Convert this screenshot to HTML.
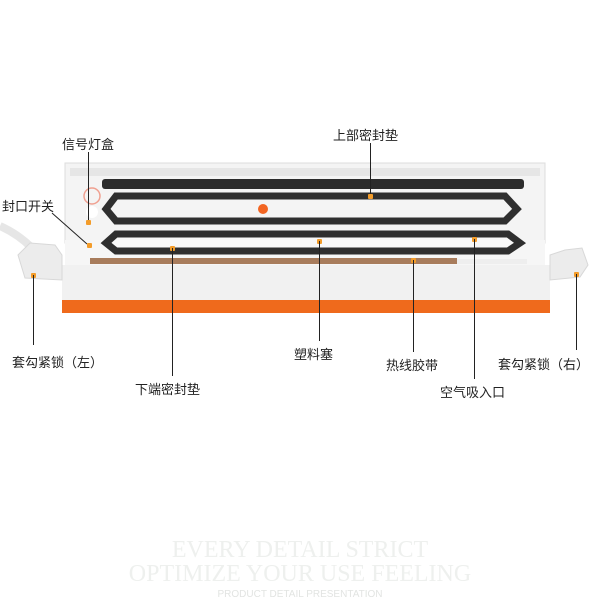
<!DOCTYPE html><html><head><meta charset="utf-8"><style>
body{margin:0;width:600px;height:600px;background:#fff;position:relative;overflow:hidden;font-family:"Liberation Sans","Noto Sans CJK SC",sans-serif}
.t{position:absolute;font-size:13px;color:#222;white-space:nowrap}
.ln{position:absolute;width:1px;background:#222}
.d{position:absolute;width:5px;height:5px;background:#f39c2a;border-radius:1px}
.g{position:absolute;font-family:"Liberation Serif",serif;color:#eef0ee;white-space:nowrap;text-align:center;width:600px;left:0}
</style></head><body>
<svg width="600" height="600" style="position:absolute;left:0;top:0">
<path d="M0 226 Q18 234 32 248" stroke="#e6e6e6" stroke-width="8" fill="none"/>
<rect x="65" y="163" width="480" height="80" fill="#f4f4f4" stroke="#ddd"/>
<rect x="70" y="168" width="470" height="8" fill="#e6e6e6"/>
<rect x="102" y="179" width="422" height="10" rx="3" fill="#2c2c2c"/>
<path d="M116 196 L505 196 L517 209 L505 221 L116 221 L106 209 Z" fill="none" stroke="#2f2f2f" stroke-width="7"/>
<circle cx="263" cy="209" r="5" fill="#f26522"/>
<circle cx="92" cy="196" r="8" fill="none" stroke="#f0a090" stroke-width="1.5"/>
<circle cx="92" cy="212" r="6" fill="#fff"/>
<rect x="65" y="240" width="480" height="25" fill="#f6f6f6"/>
<path d="M116 234 L508 234 L520 243 L508 251 L116 251 L106 243 Z" fill="#f8f8f8" stroke="#2f2f2f" stroke-width="7"/>
<rect x="90" y="258" width="367" height="6" fill="#a87c5c"/>
<rect x="457" y="259" width="70" height="5" fill="#eee"/>
<rect x="62" y="265" width="488" height="36" fill="#f1f1f1"/>
<rect x="62" y="300" width="488" height="13" fill="#ef6a1c"/>
<path d="M18 255 L30 243 L55 245 L62 255 L62 280 L25 278 Z" fill="#ececec" stroke="#d8d8d8"/>
<path d="M550 255 L565 250 L582 248 L588 265 L580 277 L550 280 Z" fill="#ececec" stroke="#d8d8d8"/>
<line x1="52" y1="213" x2="87" y2="244" stroke="#222" stroke-width="1"/>
</svg>
<div class="t" style="left:62px;top:134px">信号灯盒</div><div class="ln" style="left:88px;top:152px;height:70px"></div><div class="d" style="left:86px;top:220px"></div>
<div class="t" style="left:333px;top:125px">上部密封垫</div><div class="ln" style="left:370px;top:143px;height:53px"></div><div class="d" style="left:368px;top:194px"></div>
<div class="t" style="left:2px;top:196px">封口开关</div><div class="d" style="left:87px;top:243px"></div>
<div class="d" style="left:31px;top:273px"></div><div class="ln" style="left:33px;top:275px;height:70px"></div><div class="t" style="left:12px;top:352px">套勾紧锁（左）</div>
<div class="d" style="left:170px;top:246px"></div><div class="ln" style="left:172px;top:248px;height:128px"></div><div class="t" style="left:135px;top:379px">下端密封垫</div>
<div class="d" style="left:317px;top:239px"></div><div class="ln" style="left:319px;top:241px;height:100px"></div><div class="t" style="left:294px;top:344px">塑料塞</div>
<div class="d" style="left:411px;top:258px"></div><div class="ln" style="left:413px;top:260px;height:92px"></div><div class="t" style="left:386px;top:355px">热线胶带</div>
<div class="d" style="left:472px;top:237px"></div><div class="ln" style="left:474px;top:239px;height:140px"></div><div class="t" style="left:440px;top:382px">空气吸入口</div>
<div class="d" style="left:574px;top:272px"></div><div class="ln" style="left:576px;top:274px;height:76px"></div><div class="t" style="left:498px;top:354px">套勾紧锁（右）</div>
<div class="g" style="top:537px;font-size:24px">EVERY DETAIL STRICT</div>
<div class="g" style="top:561px;font-size:24px">OPTIMIZE YOUR USE FEELING</div>
<div class="g" style="top:589px;font-size:10px;font-family:'Liberation Sans',sans-serif;color:#e2e4e2">PRODUCT DETAIL PRESENTATION</div>
</body></html>
